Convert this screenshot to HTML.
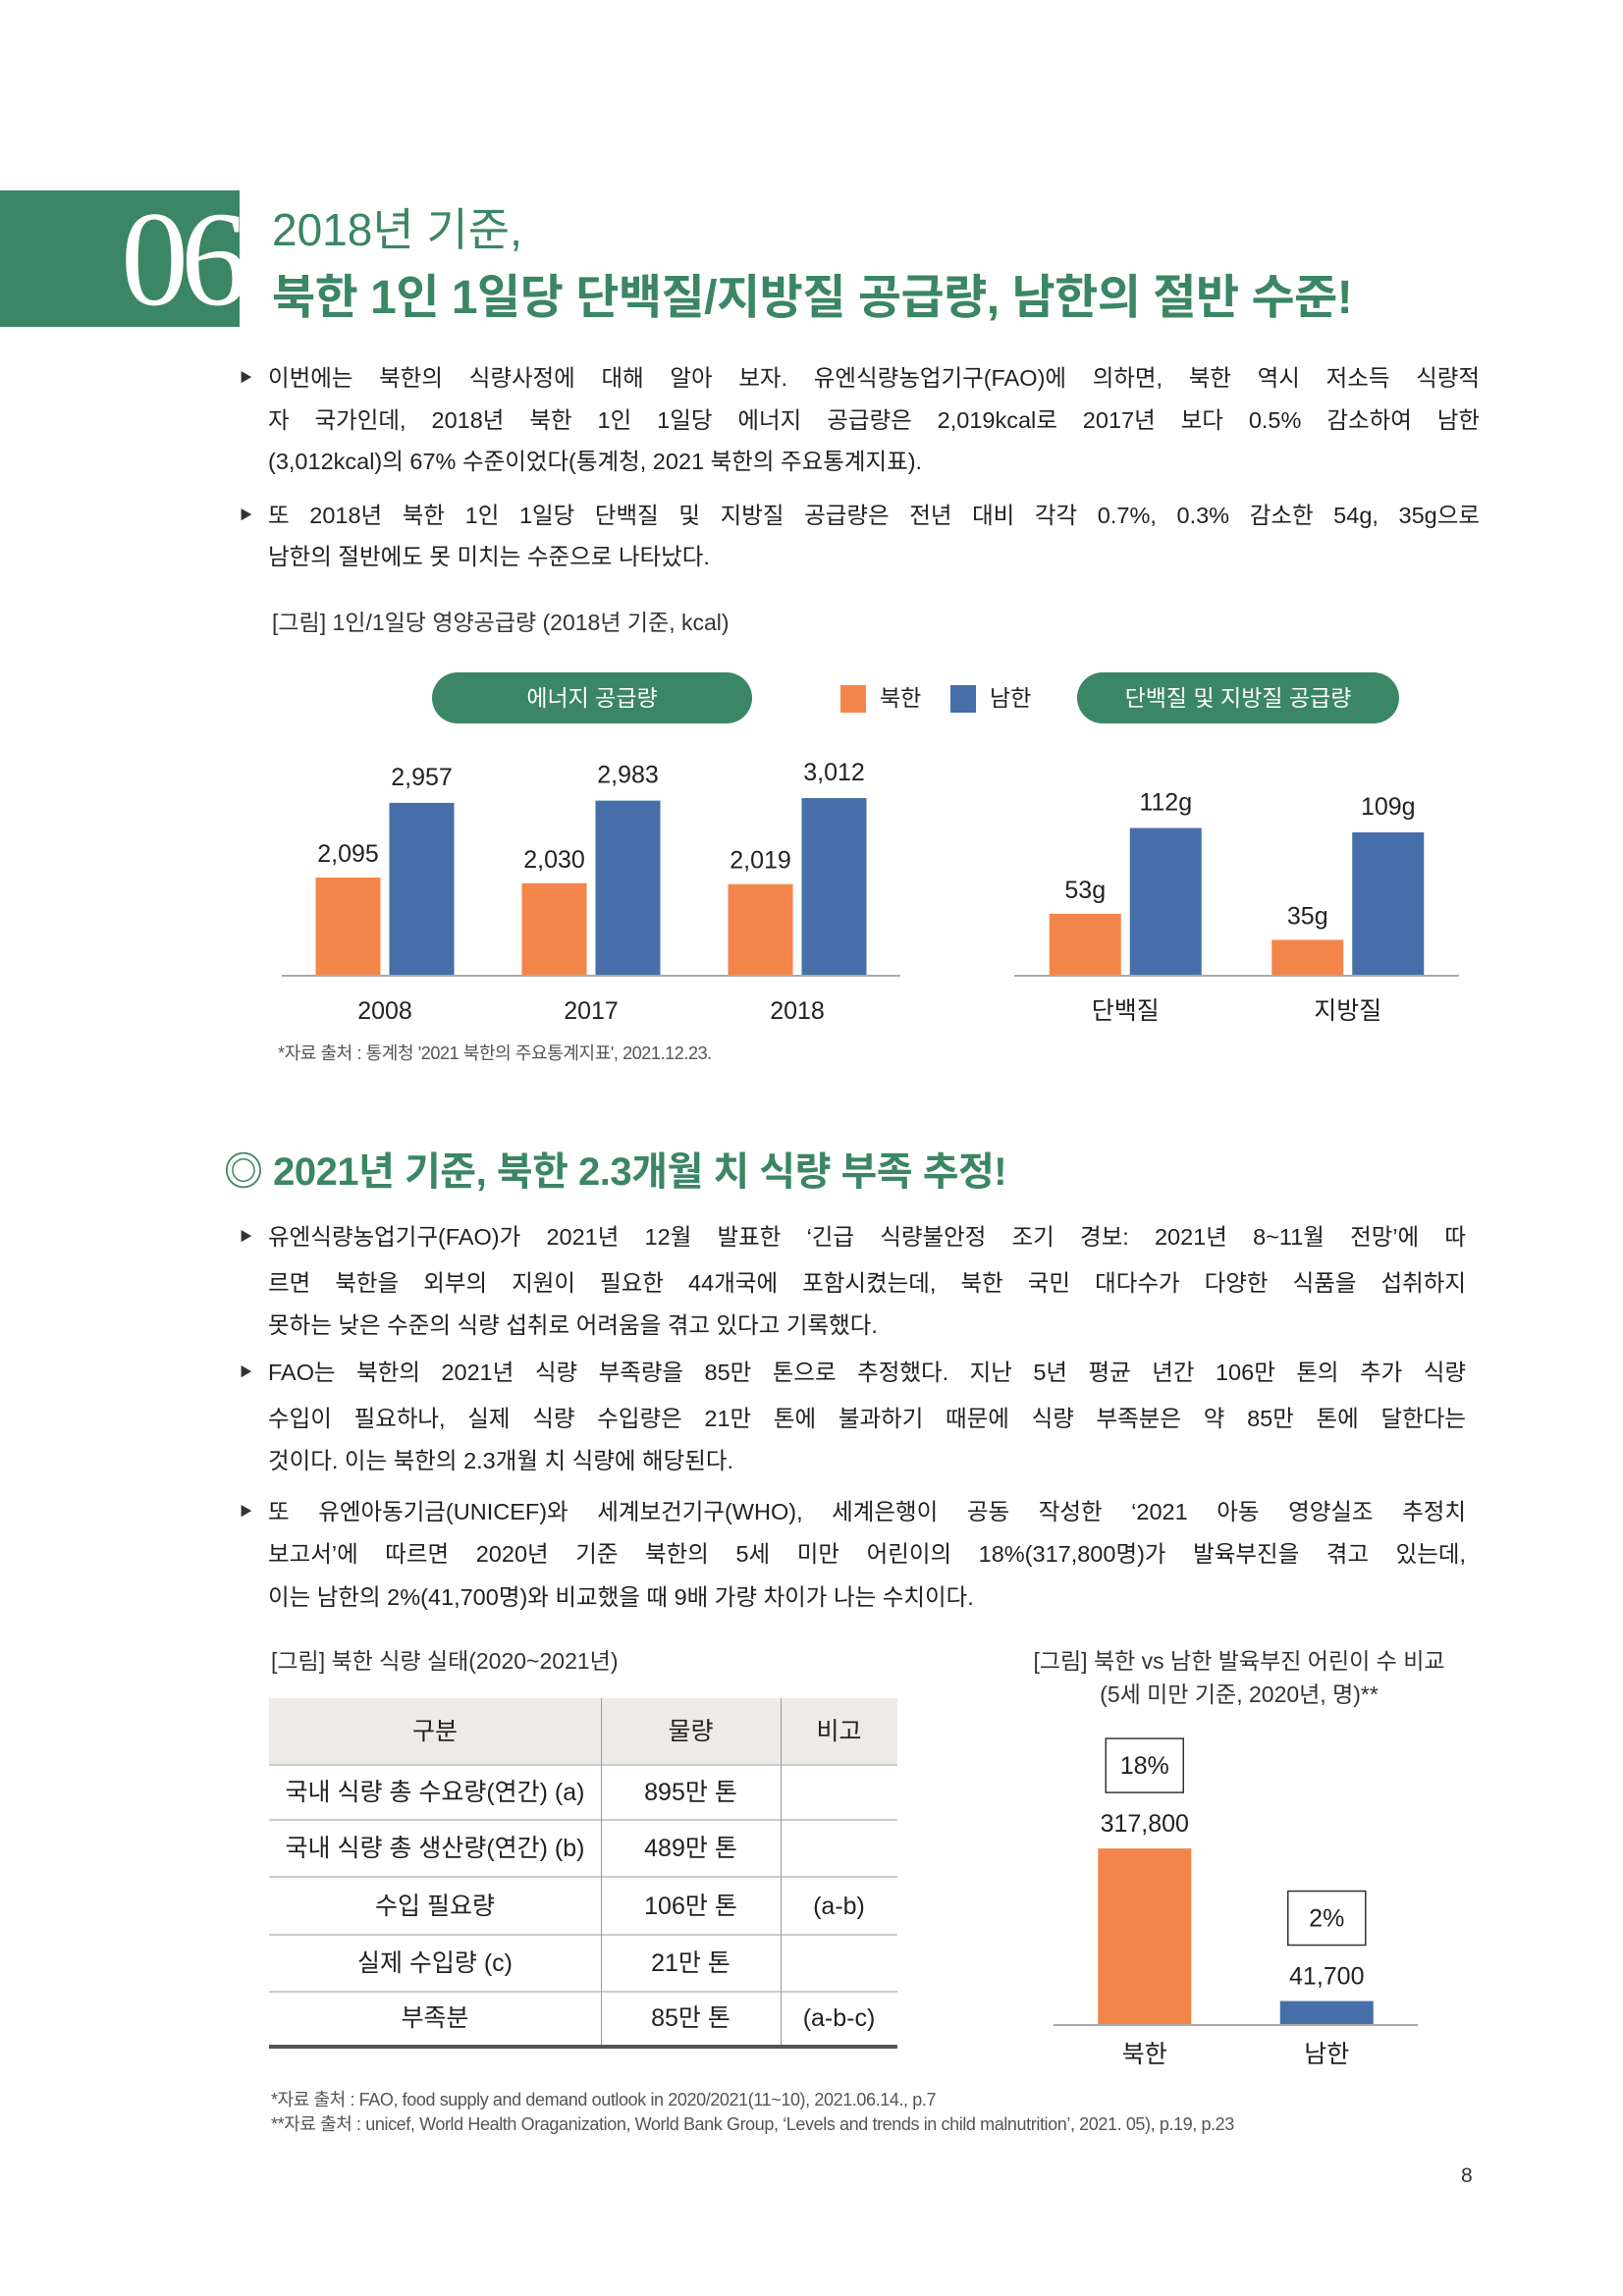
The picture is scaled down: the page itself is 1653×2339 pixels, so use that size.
<!DOCTYPE html>
<html lang="ko"><head><meta charset="utf-8">
<style>
*{margin:0;padding:0;box-sizing:border-box}
body{width:1653px;height:2339px;position:relative;background:#fff;font-family:"Liberation Sans","Noto Sans CJK KR",sans-serif;color:#222;overflow:hidden}
.a{position:absolute;white-space:nowrap}
.ln{position:absolute;left:273px;height:34px;line-height:34px;font-size:23.5px;text-align:justify;text-align-last:justify;color:#222;white-space:normal;overflow:hidden}
.last{text-align-last:left}
.bul{position:absolute;left:244px;font-size:13px;color:#333;line-height:20px}
.cap{font-size:23px;color:#333;line-height:30px}
.pill{position:absolute;background:#3b8664;color:#fff;border-radius:26px;font-size:23px;text-align:center;line-height:52px;height:52px}
.td{position:absolute;font-size:25px;line-height:30px;text-align:center;color:#222}
.fn{font-size:18px;color:#555;letter-spacing:-0.4px;line-height:24px}
</style></head><body>

<div class="a" style="left:0;top:194px;width:244px;height:139px;background:#3b8664"></div>
<div class="a" style="left:100px;top:194px;width:145px;height:139px;line-height:139px;font-family:'Liberation Serif',serif;font-size:138px;color:#fff;letter-spacing:-8px;text-align:right">06</div>
<div class="a" style="left:277px;top:204px;font-size:46px;line-height:60px;color:#3b8664">2018년 기준,</div>
<div class="a" style="left:277px;top:273px;font-size:48px;line-height:62px;color:#3b8664;font-weight:bold;letter-spacing:-0.5px">북한 1인 1일당 단백질/지방질 공급량, 남한의 절반 수준!</div>

<div class="bul" style="top:375px">▶</div>
<div class="ln" style="top:368px;width:1234px">이번에는 북한의 식량사정에 대해 알아 보자. 유엔식량농업기구(FAO)에 의하면, 북한 역시 저소득 식량적</div>
<div class="ln" style="top:411px;width:1234px">자 국가인데, 2018년 북한 1인 1일당 에너지 공급량은 2,019kcal로 2017년 보다 0.5% 감소하여 남한</div>
<div class="ln last" style="top:453px;width:1234px">(3,012kcal)의 67% 수준이었다(통계청, 2021 북한의 주요통계지표).</div>
<div class="bul" style="top:515px">▶</div>
<div class="ln" style="top:508px;width:1234px">또 2018년 북한 1인 1일당 단백질 및 지방질 공급량은 전년 대비 각각 0.7%, 0.3% 감소한 54g, 35g으로</div>
<div class="ln last" style="top:550px;width:1234px">남한의 절반에도 못 미치는 수준으로 나타났다.</div>

<div class="a cap" style="left:277px;top:619px">[그림] 1인/1일당 영양공급량 (2018년 기준, kcal)</div>
<div class="pill" style="left:440px;top:685px;width:326px">에너지 공급량</div>
<div class="pill" style="left:1097px;top:685px;width:328px">단백질 및 지방질 공급량</div>
<div class="a" style="left:856px;top:698px;width:26px;height:28px;background:#f4854a"></div>
<div class="a" style="left:896px;top:696px;font-size:23px;line-height:30px">북한</div>
<div class="a" style="left:968px;top:698px;width:26px;height:28px;background:#466ea8"></div>
<div class="a" style="left:1008px;top:696px;font-size:23px;line-height:30px">남한</div>
<div class="a fn" style="left:283px;top:1061px">*자료 출처 : 통계청 '2021 북한의 주요통계지표', 2021.12.23.</div>

<div class="a" style="left:228px;top:1167px;font-size:40px;line-height:54px;color:#3b8664;font-weight:bold;letter-spacing:-0.5px">◎ 2021년 기준, 북한 2.3개월 치 식량 부족 추정!</div>

<div class="bul" style="top:1250px">▶</div>
<div class="ln" style="top:1243px;width:1220px">유엔식량농업기구(FAO)가 2021년 12월 발표한 ‘긴급 식량불안정 조기 경보: 2021년 8~11월 전망’에 따</div>
<div class="ln" style="top:1290px;width:1220px">르면 북한을 외부의 지원이 필요한 44개국에 포함시켰는데, 북한 국민 대다수가 다양한 식품을 섭취하지</div>
<div class="ln last" style="top:1333px;width:1220px">못하는 낮은 수준의 식량 섭취로 어려움을 겪고 있다고 기록했다.</div>
<div class="bul" style="top:1388px">▶</div>
<div class="ln" style="top:1381px;width:1220px">FAO는 북한의 2021년 식량 부족량을 85만 톤으로 추정했다. 지난 5년 평균 년간 106만 톤의 추가 식량</div>
<div class="ln" style="top:1428px;width:1220px">수입이 필요하나, 실제 식량 수입량은 21만 톤에 불과하기 때문에 식량 부족분은 약 85만 톤에 달한다는</div>
<div class="ln last" style="top:1471px;width:1220px">것이다. 이는 북한의 2.3개월 치 식량에 해당된다.</div>
<div class="bul" style="top:1530px">▶</div>
<div class="ln" style="top:1523px;width:1220px">또 유엔아동기금(UNICEF)와 세계보건기구(WHO), 세계은행이 공동 작성한 ‘2021 아동 영양실조 추정치</div>
<div class="ln" style="top:1566px;width:1220px">보고서’에 따르면 2020년 기준 북한의 5세 미만 어린이의 18%(317,800명)가 발육부진을 겪고 있는데,</div>
<div class="ln last" style="top:1610px;width:1220px">이는 남한의 2%(41,700명)와 비교했을 때 9배 가량 차이가 나는 수치이다.</div>

<div class="a cap" style="left:276px;top:1677px">[그림] 북한 식량 실태(2020~2021년)</div>
<div class="a cap" style="left:1042px;top:1675px;width:440px;text-align:center;line-height:34px">[그림] 북한 vs 남한 발육부진 어린이 수 비교<br>(5세 미만 기준, 2020년, 명)**</div>

<div>
<div class="a" style="left:274px;top:1730px;width:640px;height:68px;background:#eeebe7"></div>
<div class="a" style="left:274px;top:1797px;width:640px;height:2px;background:#ccc"></div>
<div class="a" style="left:274px;top:1853px;width:640px;height:2px;background:#ccc"></div>
<div class="a" style="left:274px;top:1911px;width:640px;height:2px;background:#ccc"></div>
<div class="a" style="left:274px;top:1970px;width:640px;height:2px;background:#ccc"></div>
<div class="a" style="left:274px;top:2028px;width:640px;height:2px;background:#ccc"></div>
<div class="a" style="left:612px;top:1730px;width:1px;height:356px;background:#999"></div>
<div class="a" style="left:795px;top:1730px;width:1px;height:356px;background:#999"></div>
<div class="a" style="left:274px;top:2083px;width:640px;height:4px;background:#555"></div>

<div class="td" style="left:274px;top:1749px;width:338px">구분</div>
<div class="td" style="left:612px;top:1749px;width:183px">물량</div>
<div class="td" style="left:795px;top:1749px;width:119px">비고</div>

<div class="td" style="left:274px;top:1811px;width:338px">국내 식량 총 수요량(연간) (a)</div>
<div class="td" style="left:612px;top:1811px;width:183px">895만 톤</div>
<div class="td" style="left:274px;top:1868px;width:338px">국내 식량 총 생산량(연간) (b)</div>
<div class="td" style="left:612px;top:1868px;width:183px">489만 톤</div>
<div class="td" style="left:274px;top:1927px;width:338px">수입 필요량</div>
<div class="td" style="left:612px;top:1927px;width:183px">106만 톤</div>
<div class="td" style="left:795px;top:1927px;width:119px">(a-b)</div>
<div class="td" style="left:274px;top:1985px;width:338px">실제 수입량 (c)</div>
<div class="td" style="left:612px;top:1985px;width:183px">21만 톤</div>
<div class="td" style="left:274px;top:2041px;width:338px">부족분</div>
<div class="td" style="left:612px;top:2041px;width:183px">85만 톤</div>
<div class="td" style="left:795px;top:2041px;width:119px">(a-b-c)</div>
</div>

<div class="a fn" style="left:276px;top:2127px">*자료 출처 : FAO, food supply and demand outlook in 2020/2021(11~10), 2021.06.14., p.7</div>
<div class="a fn" style="left:276px;top:2152px">**자료 출처 : unicef, World Health Oraganization, World Bank Group, ‘Levels and trends in child malnutrition’, 2021. 05), p.19, p.23</div>
<div class="a" style="left:1488px;top:2204px;font-size:21px;line-height:26px;color:#333">8</div>

<svg id="charts" width="1653" height="2339" style="position:absolute;left:0;top:0" xmlns="http://www.w3.org/2000/svg"></svg>

<script>
const energyCategories = ["2008", "2017", "2018"];
const energyNorth = [2095, 2030, 2019];
const energySouth = [2957, 2983, 3012];
const nutrientCategories = ["단백질", "지방질"];
const nutrientNorth = [53, 35];
const nutrientSouth = [112, 109];
const nutrientNorthLabels = ["53g", "35g"];
const nutrientSouthLabels = ["112g", "109g"];
const stuntCategories = ["북한", "남한"];
const stuntValues = [317800, 41700];
const stuntShares = ["18%", "2%"];

const NS = "http://www.w3.org/2000/svg";
const svg = document.getElementById("charts");
const ORANGE = "#f4854a", BLUE = "#466ea8";
function mk(tag, attrs, name) {
  const el = document.createElementNS(NS, tag);
  for (const k in attrs) el.setAttribute(k, attrs[k]);
  
  
  svg.appendChild(el);
  return el;
}
function txt(x, y, s, name, size) {
  const t = mk("text", {x: x, y: y, "text-anchor": "middle", "dominant-baseline": "central", "font-size": size || 25, fill: "#222", "font-family": "Liberation Sans, Noto Sans CJK KR, sans-serif"}, name);
  t.textContent = s;
  return t;
}
function band(x0, x1, n) { const w = (x1 - x0) / n; return i => x0 + w * (i + 0.5); }
function fmt(v) { return v.toLocaleString("en-US"); }

// energy chart
(function () {
  const base = 993, x0 = 287, x1 = 917, bw = 66, gap = 9;
  const y = v => base - 0.0883 * (v - 974);
  const cx = band(x0, x1, energyCategories.length);
  mk("line", {x1: x0, x2: x1, y1: base + 1, y2: base + 1, stroke: "#aaa", "stroke-width": 2}, "energy-x-axis");
  energyCategories.forEach((c, i) => {
    const c0 = cx(i);
    const yn = y(energyNorth[i]), ys = y(energySouth[i]);
    mk("rect", {x: c0 - gap / 2 - bw, y: yn, width: bw, height: base - yn, fill: ORANGE}, "energy-bar-north-" + c);
    mk("rect", {x: c0 + gap / 2, y: ys, width: bw, height: base - ys, fill: BLUE}, "energy-bar-south-" + c);
    txt(c0 - gap / 2 - bw / 2, yn - 24, fmt(energyNorth[i]), "energy-value-north");
    txt(c0 + gap / 2 + bw / 2, ys - 26, fmt(energySouth[i]), "energy-value-south");
    txt(c0, 1030, c, "energy-x-label");
  });
})();

// protein / fat chart
(function () {
  const base = 993, x0 = 1033, x1 = 1486, bw = 73, gap = 9;
  const y = v => base - 1.48 * (v - 11);
  const cx = band(x0, x1, nutrientCategories.length);
  mk("line", {x1: x0, x2: x1, y1: base + 1, y2: base + 1, stroke: "#aaa", "stroke-width": 2}, "nutrient-x-axis");
  nutrientCategories.forEach((c, i) => {
    const c0 = cx(i);
    const yn = y(nutrientNorth[i]), ys = y(nutrientSouth[i]);
    mk("rect", {x: c0 - gap / 2 - bw, y: yn, width: bw, height: base - yn, fill: ORANGE}, "nutrient-bar-north-" + i);
    mk("rect", {x: c0 + gap / 2, y: ys, width: bw, height: base - ys, fill: BLUE}, "nutrient-bar-south-" + i);
    txt(c0 - gap / 2 - bw / 2, yn - 24, nutrientNorthLabels[i], "nutrient-value-north");
    txt(c0 + gap / 2 + bw / 2, ys - 26, nutrientSouthLabels[i], "nutrient-value-south");
    txt(c0, 1030, c, "nutrient-x-label");
  });
})();

// stunting chart
(function () {
  const base = 2062, x0 = 1073, x1 = 1444, bw = 95;
  const y = v => base - 0.000563 * v;
  const cx = band(x0, x1, stuntCategories.length);
  const colors = [ORANGE, BLUE];
  mk("line", {x1: x0, x2: x1, y1: base + 1, y2: base + 1, stroke: "#aaa", "stroke-width": 2}, "stunting-x-axis");
  stuntCategories.forEach((c, i) => {
    const c0 = cx(i);
    const yt = y(stuntValues[i]);
    mk("rect", {x: c0 - bw / 2, y: yt, width: bw, height: base - yt, fill: colors[i]}, "stunting-bar-" + i);
    txt(c0, yt - 25, fmt(stuntValues[i]), "stunting-value");
    mk("rect", {x: c0 - 39.5, y: yt - 112, width: 79, height: 55, fill: "#fff", stroke: "#333", "stroke-width": 1.5}, "stunting-share-box");
    txt(c0, yt - 84, stuntShares[i], "stunting-share");
    txt(c0, 2093, c, "stunting-x-label");
  });
})();
</script>
</body></html>
